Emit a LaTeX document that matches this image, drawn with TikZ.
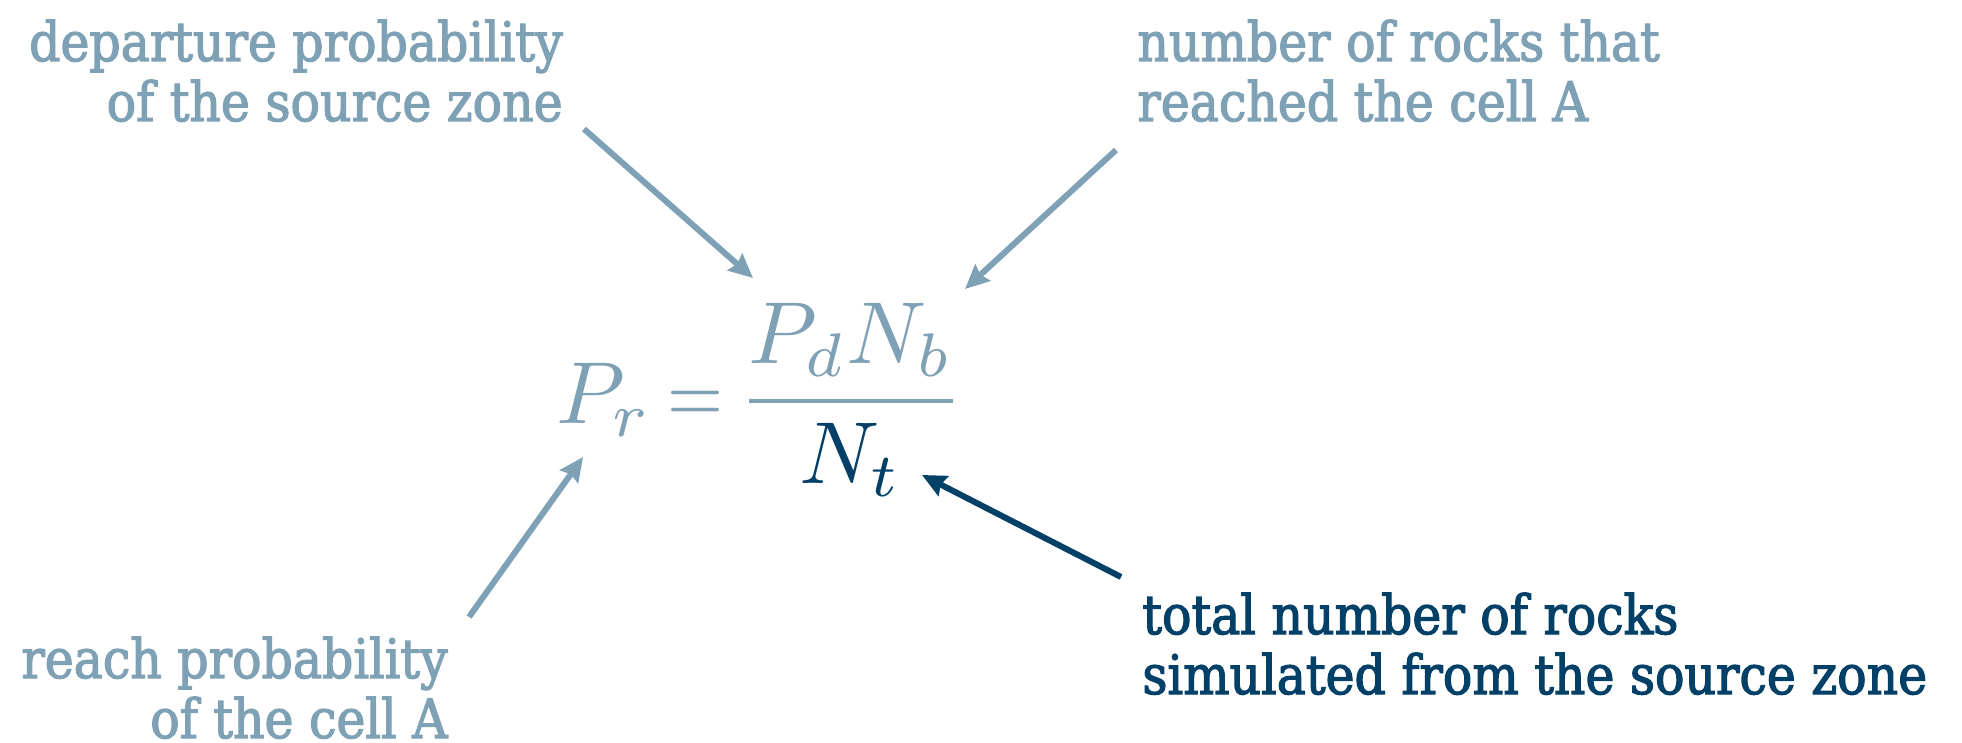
\documentclass[tikz,border=0pt]{standalone}
\usepackage{graphicx}
\usepackage{fontspec}
\setmainfont[FakeBold=2.2]{DejaVu Serif Condensed}
\usetikzlibrary{arrows.meta}
\definecolor{lightc}{RGB}{127,161,182}
\definecolor{darkc}{RGB}{2,64,104}
\tikzset{
  lbl/.style={inner sep=0pt, font=\fontsize{27.2}{30}\selectfont},
  mth/.style={inner sep=0pt, anchor=base west, text=lightc, font=\fontsize{10}{12}\selectfont},
  arr/.style={line width=3pt, -{Stealth[length=12pt,width=11pt,inset=1.5pt]}},
}
\begin{document}
\begin{tikzpicture}[x=0.5pt,y=-0.5pt]
\useasboundingbox[fill=white] (0,0) rectangle (1962,743);
% labels
\node[lbl, text=lightc, anchor=base east] (dep) at (563,61)
  {\begin{tabular}[t]{@{}r@{}}departure probability\\of the source zone\end{tabular}};
\node[lbl, text=lightc, anchor=base west] (num) at (1137,61)
  {\begin{tabular}[t]{@{}l@{}}number of rocks that\\reached the cell A\end{tabular}};
\node[lbl, text=lightc, anchor=base east] (reach) at (448,678)
  {\begin{tabular}[t]{@{}r@{}}reach probability\\of the cell A\end{tabular}};
\node[lbl, text=darkc, anchor=base west] (tot) at (1142,634)
  {\begin{tabular}[t]{@{}l@{}}total number of rocks\\simulated from the source zone\end{tabular}};
% equation
\node[mth] (pr) at (556,423) {\scalebox{4.4}{$P_r$}};
\node[mth] (eqs) at (667,423) {\scalebox{3.6}[4.4]{$=$}};
\node[mth] (frac) at (738,423)
  {\scalebox{4.4}{$\displaystyle\frac{P_d N_b}{\textcolor{darkc}{N_t}}$}};
% arrow end points
\coordinate (a1s) at (584,129); \coordinate (a1e) at (753,278);
\coordinate (a2s) at (1116,150); \coordinate (a2e) at (965,289);
\coordinate (a3s) at (469,617); \coordinate (a3e) at (583,457);
\coordinate (a4s) at (1121,577); \coordinate (a4e) at (922,475);
\draw[arr, lightc] (a1s) -- (a1e);
\draw[arr, lightc] (a2s) -- (a2e);
\draw[arr, lightc] (a3s) -- (a3e);
\draw[arr, darkc] (a4s) -- (a4e);
\end{tikzpicture}
\end{document}
